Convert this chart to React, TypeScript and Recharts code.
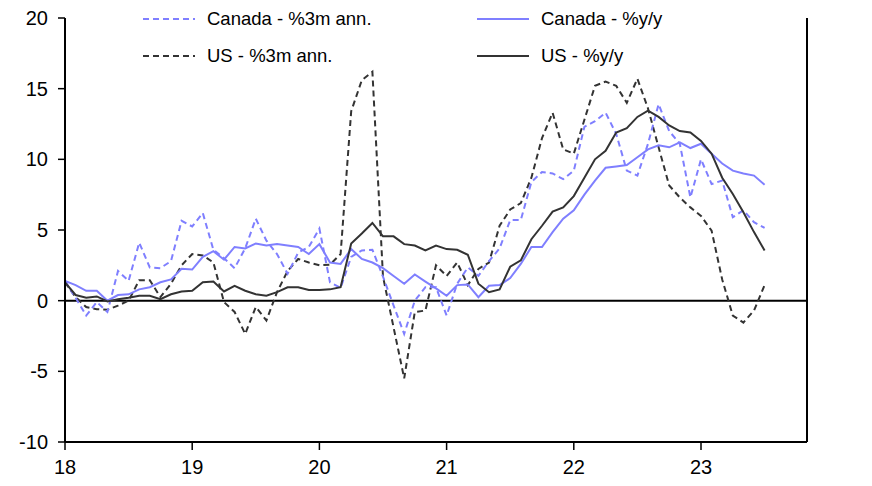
import { LineChart, Line, XAxis, YAxis, ReferenceLine } from 'recharts';

// monthly, Jan 2018 .. Jul 2023
const canadaM3 = [
  1.4, 0.2, -1.05, -0.1, -0.8, 2.1, 1.4, 4.1, 2.35, 2.3, 2.8, 5.65,
  5.25, 6.2, 3.6, 3.0, 2.3, 3.7, 5.8, 4.25, 3.3, 1.9, 3.4, 3.8,
  5.1, 1.3, 0.9, 3.1, 3.55, 3.6, 1.7, -0.35, -2.35, 0.0, 0.95, 0.95,
  -1.05, 1.2, 2.35, 1.75, 2.8, 3.7, 5.7, 5.7, 8.4, 9.1, 9.0, 8.6,
  9.2, 12.3, 12.7, 13.3, 11.8, 9.2, 8.85, 11.1, 13.9, 12.0, 11.1, 7.3,
  10.0, 8.25, 8.5, 5.9, 6.4, 5.55, 5.15,
];
const canadaYoY = [
  1.4, 1.1, 0.7, 0.7, 0.0, 0.4, 0.45, 0.8, 0.95, 1.3, 1.5, 2.25,
  2.2, 3.1, 3.5, 2.9, 3.8, 3.7, 4.05, 3.9, 4.0, 3.9, 3.8, 3.3,
  4.0, 2.7, 2.6, 3.65, 2.95, 2.7, 2.3, 1.75, 1.2, 1.85, 1.35, 0.87,
  0.35, 1.1, 1.15, 0.25, 1.05, 1.1, 1.6, 2.6, 3.8, 3.8, 4.85, 5.8,
  6.4, 7.5, 8.5, 9.4, 9.5, 9.6, 10.15, 10.7, 11.0, 10.85, 11.2, 10.8,
  11.1, 10.4, 9.7, 9.2, 9.0, 8.85, 8.2,
];
const usM3 = [
  1.3, 0.25, -0.45, -0.6, -0.65, -0.35, 0.0, 1.45, 1.45, 0.25, 1.2, 2.5,
  3.3, 3.2, 2.7, -0.1, -0.8, -2.35, -0.45, -1.4, 0.6, 2.1, 2.95, 2.7,
  2.5, 2.55, 3.3, 13.4, 15.6, 16.2, 1.7, -1.9, -5.5, -0.8, -0.7, 2.5,
  1.75, 2.7, 1.1, 2.25, 2.7, 5.3, 6.45, 6.9, 8.7, 11.5, 13.3, 10.7,
  10.4, 12.8, 15.2, 15.5, 15.2, 14.0, 15.7, 13.6, 10.85, 8.15, 7.3, 6.6,
  6.0, 4.95, 1.5, -1.05, -1.55, -0.7, 1.1,
];
const usYoY = [
  1.3, 0.4, 0.2, 0.3, -0.05, 0.1, 0.2, 0.35, 0.35, 0.1, 0.45, 0.65,
  0.7, 1.3, 1.35, 0.65, 1.05, 0.7, 0.45, 0.35, 0.6, 0.95, 0.95, 0.75,
  0.75, 0.8, 0.95, 4.05, 4.75, 5.5, 4.55, 4.55, 4.0, 3.9, 3.55, 3.9,
  3.65, 3.6, 3.25, 1.2, 0.6, 0.8, 2.4, 2.85, 4.35, 5.3, 6.3, 6.6,
  7.4, 8.7, 10.0, 10.6, 11.9, 12.2, 13.0, 13.45, 13.0, 12.4, 12.0, 11.9,
  11.3, 10.4, 8.7, 7.55, 6.25, 4.85, 3.55,
];

const xTicks = [0, 12, 24, 36, 48, 60];
const xTickLabels = ['18', '19', '20', '21', '22', '23'];
const yTicks = [-10, -5, 0, 5, 10, 15, 20];

const BLUE = '#7f7fff';
const DARK = '#333333';
const FONT = 'Arial, "Liberation Sans", sans-serif';

const data = canadaYoY.map((_, i) => ({
  t: i,
  canM3: canadaM3[i],
  canYoY: canadaYoY[i],
  usM3: usM3[i],
  usYoY: usYoY[i],
}));

const legendItems = [
  { label: 'Canada - %3m ann.', color: BLUE, dash: '6 4', left: 143, top: 19 },
  { label: 'Canada - %y/y', color: BLUE, dash: undefined, left: 477, top: 19 },
  { label: 'US - %3m ann.', color: DARK, dash: '6 4', left: 143, top: 56 },
  { label: 'US - %y/y', color: DARK, dash: undefined, left: 477, top: 56 },
];

function ChartLegend() {
  return (
    <>
      {legendItems.map((it) => (
        <div
          key={it.label}
          style={{
            position: 'absolute',
            left: it.left,
            top: it.top - 12,
            height: 24,
            display: 'flex',
            alignItems: 'center',
            fontFamily: FONT,
            fontSize: 18.5,
            color: '#000',
            whiteSpace: 'nowrap',
          }}
        >
          <svg width={52} height={4} style={{ marginRight: 12 }}>
            <line x1={0} y1={2} x2={52} y2={2} stroke={it.color} strokeWidth={2} strokeDasharray={it.dash} />
          </svg>
          {it.label}
        </div>
      ))}
    </>
  );
}

export default function App() {
  const tickStyle = { fontFamily: FONT, fontSize: 20, fill: '#000' };
  const axisLine = { stroke: '#000', strokeWidth: 2 };
  const tickLine = { stroke: '#000', strokeWidth: 1.5 };

  return (
    <div style={{ position: 'absolute', left: 0, top: 0, width: 872, height: 486, background: '#fff' }}>
      <LineChart width={872} height={486} data={data} margin={{ top: 18, right: 0, bottom: 0, left: 0 }}>
        <XAxis
          dataKey="t"
          type="number"
          domain={[0, 70]}
          ticks={xTicks}
          tickFormatter={(v: number) => xTickLabels[xTicks.indexOf(v)] ?? ''}
          height={44}
          axisLine={axisLine}
          tickLine={tickLine}
          tickSize={8}
          tickMargin={10}
          tick={tickStyle}
        />
        <YAxis
          yAxisId="left"
          orientation="left"
          width={65}
          domain={[-10, 20]}
          ticks={yTicks}
          axisLine={axisLine}
          tickLine={tickLine}
          tickSize={7}
          tickMargin={10}
          tick={tickStyle}
        />
        <YAxis
          yAxisId="right"
          orientation="right"
          width={65}
          domain={[-10, 20]}
          ticks={yTicks}
          axisLine={axisLine}
          tickLine={tickLine}
          tickSize={8}
          tickMargin={6}
          tick={tickStyle}
        />
        <ReferenceLine yAxisId="left" y={0} stroke="#000" strokeWidth={2} />
        <Line yAxisId="left" type="linear" dataKey="usM3" stroke={DARK} strokeWidth={2} strokeDasharray="6 4" dot={false} isAnimationActive={false} />
        <Line yAxisId="left" type="linear" dataKey="canM3" stroke={BLUE} strokeWidth={2} strokeDasharray="6 4" dot={false} isAnimationActive={false} />
        <Line yAxisId="left" type="linear" dataKey="canYoY" stroke={BLUE} strokeWidth={2} dot={false} isAnimationActive={false} />
        <Line yAxisId="left" type="linear" dataKey="usYoY" stroke={DARK} strokeWidth={2} dot={false} isAnimationActive={false} />
      </LineChart>
      <ChartLegend />
    </div>
  );
}
